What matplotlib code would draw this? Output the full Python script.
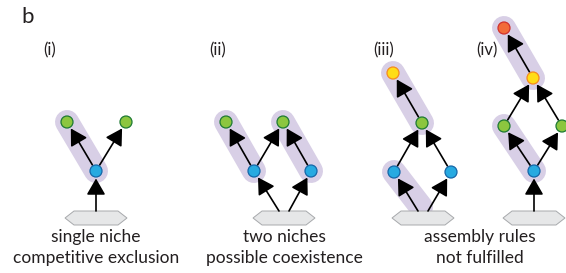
import matplotlib
matplotlib.use("Agg")
import matplotlib.pyplot as plt
from matplotlib.patches import Polygon, Circle, FancyArrowPatch

plt.rcParams['font.family'] = ['Lato', 'DejaVu Sans']

# ---- diagram content (pixel coordinates of the reference) ----
panel_labels = ["(i)", "(ii)", "(iii)", "(iv)"]
panel_label_xy = [(50, 50), (218, 50), (384, 50), (487, 50)]

captions = [["single niche", "competitive exclusion"],
            ["two niches", "possible coexistence"],
            ["assembly rules", "not fulfilled"]]
caption_x = [96, 284, 480]

# nodes: (x, y, kind)
nodes = [
    # (i)
    (67, 122, "green"), (126, 122, "green"), (96, 171, "blue"),
    # (ii)
    (226, 122, "green"), (283, 122, "green"), (254, 171, "blue"), (311, 171, "blue"),
    # (iii)
    (393, 73, "yellow"), (422, 123, "green"), (394, 172, "blue"), (451, 172, "blue"),
    # (iv)
    (504, 28, "orange"), (533, 78, "yellow"), (504, 126, "green"), (562, 126, "green"),
    (534, 171, "blue"),
]

hexagon_centers = [(96, 218), (284, 218), (423, 218), (534, 218)]

# capsules: pairs of endpoints
capsules = [
    ((67, 122), (96, 171)),
    ((226, 122), (254, 171)),
    ((283, 122), (311, 171)),
    ((393, 73), (422, 123)),
    ((394, 172), (421, 207)),
    ((504, 28), (533, 78)),
    ((504, 126), (534, 171)),
]

# arrows: (start, end) ; end at node centre -> shrink applied
arrows = [
    # (i)
    ((96, 211), (96, 171)),
    ((96, 171), (67, 122)), ((96, 171), (126, 122)),
    # (ii)
    ((279, 211), (254, 171)), ((289, 211), (311, 171)),
    ((254, 171), (226, 122)), ((254, 171), (283, 122)), ((311, 171), (283, 122)),
    # (iii)
    ((418, 211), (394, 172)), ((428, 211), (451, 172)),
    ((394, 172), (422, 123)), ((451, 172), (422, 123)), ((422, 123), (393, 73)),
    # (iv)
    ((534, 211), (534, 171)),
    ((534, 171), (504, 126)), ((534, 171), (562, 126)),
    ((504, 126), (533, 78)), ((562, 126), (533, 78)), ((533, 78), (504, 28)),
]

node_style = {
    "green": ("#8cc63f", "#1e7a33"),
    "blue": ("#27aae1", "#1566a8"),
    "yellow": ("#ffdd17", "#f58a1f"),
    "orange": ("#f26b3a", "#d0312d"),
}

W, H = 566, 273
fig = plt.figure(figsize=(W / 100, H / 100), dpi=100)
ax = fig.add_axes([0, 0, 1, 1])
ax.set_xlim(0, W)
ax.set_ylim(H, 0)
ax.axis("off")

px2pt = 72 / 100.0

for (a, b) in capsules:
    ax.plot([a[0], b[0]], [a[1], b[1]], color="#d8cfe6", lw=24 * px2pt,
            solid_capstyle="round", zorder=1)

for (cx, cy) in hexagon_centers:
    pts = [(cx - 31, cy), (cx - 22, cy - 7), (cx + 22, cy - 7),
           (cx + 31, cy), (cx + 22, cy + 7), (cx - 22, cy + 7)]
    ax.add_patch(Polygon(pts, closed=True, facecolor="#e6e7e8",
                         edgecolor="#a7a9ac", lw=0.7, zorder=2))

for (s, e) in arrows:
    shrinkA = 0 if s[1] >= 205 else 7 * px2pt
    ar = FancyArrowPatch(s, e, arrowstyle="-|>,head_length=4.5,head_width=2.6",
                         mutation_scale=2.2, color="black", lw=1.2,
                         shrinkA=shrinkA, shrinkB=7.5 * px2pt, zorder=3)
    ax.add_patch(ar)

for (x, y, k) in nodes:
    fc, ec = node_style[k]
    ax.add_patch(Circle((x, y), 6.0, facecolor=fc, edgecolor=ec, lw=0.9, zorder=4))

ax.text(28, 17, "b", fontsize=16, ha="center", va="center", color="#231f20")
for lab, (x, y) in zip(panel_labels, panel_label_xy):
    ax.text(x, y, lab, fontsize=12, ha="center", va="center", color="#231f20")

for cap, x in zip(captions, caption_x):
    ax.text(x, 237, cap[0], fontsize=12.5, ha="center", va="center", color="#231f20")
    ax.text(x, 258, cap[1], fontsize=12.5, ha="center", va="center", color="#231f20")

fig.savefig("out.png", dpi=100, facecolor="white")
